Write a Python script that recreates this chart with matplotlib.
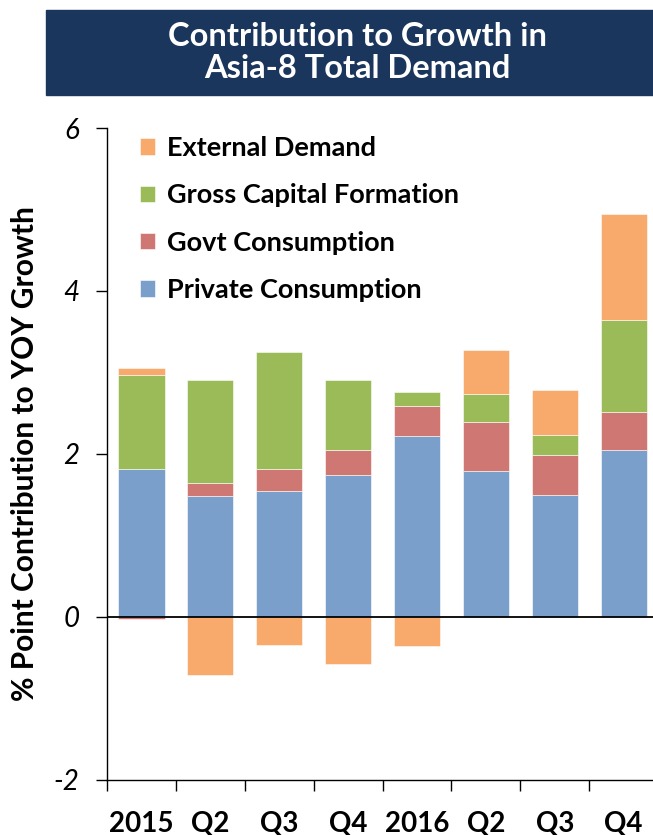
import matplotlib.pyplot as plt
from matplotlib.patches import Rectangle
import numpy as np

# Quarterly contributions to YOY growth (percentage points)
quarters = ["2015", "Q2", "Q3", "Q4", "2016", "Q2", "Q3", "Q4"]
private_consumption = [1.82, 1.48, 1.54, 1.74, 2.22, 1.79, 1.50, 2.05]
govt_consumption = [-0.02, 0.17, 0.28, 0.31, 0.37, 0.60, 0.49, 0.47]
gross_capital_formation = [1.15, 1.26, 1.43, 0.86, 0.17, 0.35, 0.24, 1.13]
external_demand = [0.08, -0.71, -0.34, -0.58, -0.36, 0.54, 0.56, 1.29]

series = [
    ("Private Consumption", private_consumption, "#7A9FCB"),
    ("Govt Consumption", govt_consumption, "#CE7773"),
    ("Gross Capital Formation", gross_capital_formation, "#9BBB59"),
    ("External Demand", external_demand, "#F7AA6B"),
]

plt.rcParams['font.family'] = ['Lato', 'DejaVu Sans']

fig = plt.figure(figsize=(6.53, 8.35), dpi=100)
ax = fig.add_axes([0.1639, 0.0659, 0.8438, 0.7808])

x = np.arange(len(quarters))
pos_base = np.zeros(len(quarters))
neg_base = np.zeros(len(quarters))
handles = []
for name, vals, color in series:
    vals = np.array(vals)
    bottoms = np.where(vals >= 0, pos_base, neg_base)
    bars = ax.bar(x, vals, width=0.67, bottom=bottoms, color=color,
                  edgecolor="#FFFFFF", linewidth=0.4, label=name, zorder=2)
    handles.append(bars)
    pos_base += np.where(vals >= 0, vals, 0)
    neg_base += np.where(vals < 0, vals, 0)

ax.axhline(0, color="black", lw=1.3, zorder=3)

ax.set_xlim(-0.5, 7.5)
ax.set_ylim(-2, 6)
for side in ["top", "right"]:
    ax.spines[side].set_visible(False)
ax.spines["left"].set_linewidth(1.0)
ax.spines["bottom"].set_linewidth(1.0)

ax.set_yticks([-2, 0, 2, 4, 6])
ax.set_yticklabels(["-2", "0", "2", "4", "6"], fontsize=20, style="italic")
ax.tick_params(axis="y", direction="out", length=8, width=1.0, pad=12)

ax.set_xticks(x)
ax.set_xticklabels(quarters, fontsize=20, fontweight="bold")
ax.set_xticks(np.arange(-0.5, 8.0, 1.0), minor=True)
ax.tick_params(axis="x", which="major", length=0, pad=22)
ax.tick_params(axis="x", which="minor", direction="out", length=8, width=1.0)

ax.set_ylabel("% Point Contribution to YOY Growth", fontsize=21.5,
              fontweight="bold", labelpad=10)

leg = ax.legend(handles[::-1], [s[0] for s in series][::-1],
                loc="upper left", bbox_to_anchor=(0.016, 1.025), frameon=False,
                fontsize=19.5, handlelength=0.55, handleheight=0.55,
                handletextpad=0.45, labelspacing=0.86)
for t in leg.get_texts():
    t.set_fontweight("bold")

# Title banner
fig.patches.append(Rectangle((0.0704, 0.8862), 0.93, 0.1018,
                             transform=fig.transFigure, color="#1B365D",
                             zorder=0))
fig.text(0.547, 0.937, "Contribution to Growth in\nAsia-8 Total Demand",
         ha="center", va="center", color="white", fontsize=23.5,
         fontweight="bold", linespacing=1.15)

fig.savefig("out.png", dpi=100)
